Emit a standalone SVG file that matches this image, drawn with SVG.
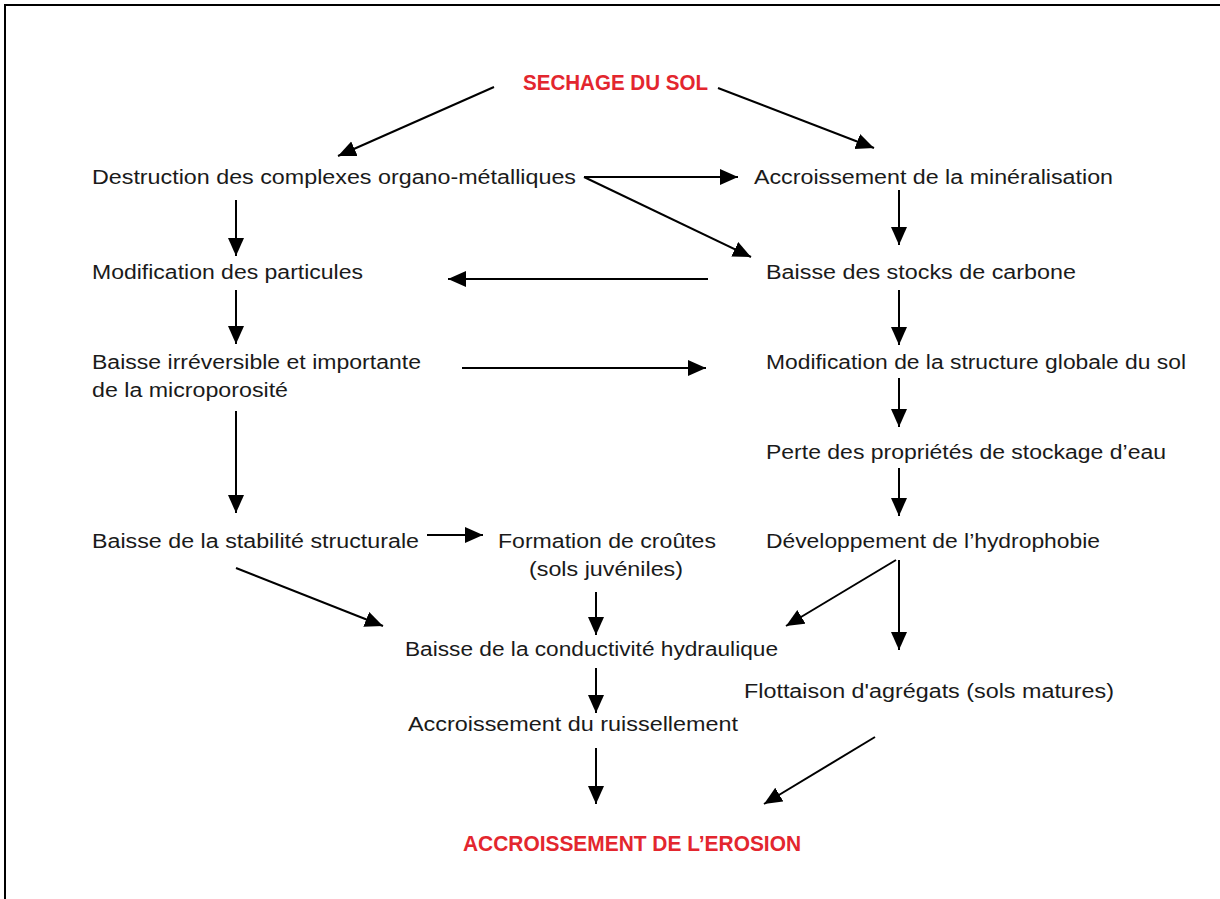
<svg xmlns="http://www.w3.org/2000/svg" width="1220" height="899" viewBox="0 0 1220 899">
<style>
.t{font-family:"Liberation Sans",Arial,Helvetica,sans-serif;font-size:19.5px;fill:#1a1a1a}
.r{font-family:"Liberation Sans",Arial,Helvetica,sans-serif;font-size:21.5px;font-weight:bold;fill:#e3262e}
.c line{stroke:#000;stroke-width:2;marker-end:url(#ah)}
</style>
<defs>
<marker id="ah" markerUnits="userSpaceOnUse" markerWidth="19" markerHeight="17" refX="18" refY="8" orient="auto">
<path d="M0,0 L18,8 L0,16 z" fill="#000"/>
</marker>
</defs>
<rect x="0" y="0" width="1220" height="899" fill="#fff"/>
<path d="M5,899 V5 H1220" fill="none" stroke="#000" stroke-width="2"/>
<g id="n-sechage"><text class="r" x="523" y="90" textLength="185" lengthAdjust="spacingAndGlyphs">SECHAGE DU SOL</text></g>
<g id="n-destruction"><text class="t" x="92" y="184" textLength="484" lengthAdjust="spacingAndGlyphs">Destruction des complexes organo-métalliques</text></g>
<g id="n-mineralisation"><text class="t" x="754" y="184" textLength="359" lengthAdjust="spacingAndGlyphs">Accroissement de la minéralisation</text></g>
<g id="n-particules"><text class="t" x="92" y="279" textLength="271" lengthAdjust="spacingAndGlyphs">Modification des particules</text></g>
<g id="n-carbone"><text class="t" x="766" y="279" textLength="310" lengthAdjust="spacingAndGlyphs">Baisse des stocks de carbone</text></g>
<g id="n-microporosite"><text class="t" x="92" y="369" textLength="329" lengthAdjust="spacingAndGlyphs">Baisse irréversible et importante</text><text class="t" x="92" y="397" textLength="196" lengthAdjust="spacingAndGlyphs">de la microporosité</text></g>
<g id="n-structure"><text class="t" x="766" y="369" textLength="420" lengthAdjust="spacingAndGlyphs">Modification de la structure globale du sol</text></g>
<g id="n-stockage"><text class="t" x="766" y="459" textLength="400" lengthAdjust="spacingAndGlyphs">Perte des propriétés de stockage d’eau</text></g>
<g id="n-stabilite"><text class="t" x="92" y="548" textLength="327" lengthAdjust="spacingAndGlyphs">Baisse de la stabilité structurale</text></g>
<g id="n-croutes"><text class="t" x="498" y="548" textLength="218" lengthAdjust="spacingAndGlyphs">Formation de croûtes</text><text class="t" x="529" y="576" textLength="154" lengthAdjust="spacingAndGlyphs">(sols juvéniles)</text></g>
<g id="n-hydrophobie"><text class="t" x="766" y="548" textLength="334" lengthAdjust="spacingAndGlyphs">Développement de l’hydrophobie</text></g>
<g id="n-conductivite"><text class="t" x="405" y="656" textLength="373" lengthAdjust="spacingAndGlyphs">Baisse de la conductivité hydraulique</text></g>
<g id="n-flottaison"><text class="t" x="744" y="698" textLength="370" lengthAdjust="spacingAndGlyphs">Flottaison d'agrégats (sols matures)</text></g>
<g id="n-ruissellement"><text class="t" x="408" y="731" textLength="330" lengthAdjust="spacingAndGlyphs">Accroissement du ruissellement</text></g>
<g id="n-erosion"><text class="r" x="463" y="851" textLength="338" lengthAdjust="spacingAndGlyphs">ACCROISSEMENT DE L’EROSION</text></g>
<g id="connectors" class="c">
<line x1="494" y1="87" x2="338" y2="156"/>
<line x1="718" y1="88" x2="874" y2="148"/>
<line x1="584" y1="177" x2="738" y2="177"/>
<line x1="584" y1="177" x2="751" y2="257"/>
<line x1="236" y1="200" x2="236" y2="256"/>
<line x1="899" y1="190" x2="899" y2="245"/>
<line x1="708" y1="279" x2="448" y2="279"/>
<line x1="236" y1="290" x2="236" y2="344"/>
<line x1="899" y1="290" x2="899" y2="345"/>
<line x1="462" y1="368" x2="706" y2="368"/>
<line x1="899" y1="378" x2="899" y2="427"/>
<line x1="236" y1="411" x2="236" y2="513"/>
<line x1="899" y1="468" x2="899" y2="516"/>
<line x1="427" y1="535" x2="483" y2="535"/>
<line x1="236" y1="568" x2="383" y2="626"/>
<line x1="596" y1="592" x2="596" y2="635"/>
<line x1="896" y1="560" x2="786" y2="626"/>
<line x1="899" y1="560" x2="899" y2="650"/>
<line x1="596" y1="668" x2="596" y2="713"/>
<line x1="596" y1="748" x2="596" y2="804"/>
<line x1="875" y1="737" x2="764" y2="804"/>
</g>
</svg>
